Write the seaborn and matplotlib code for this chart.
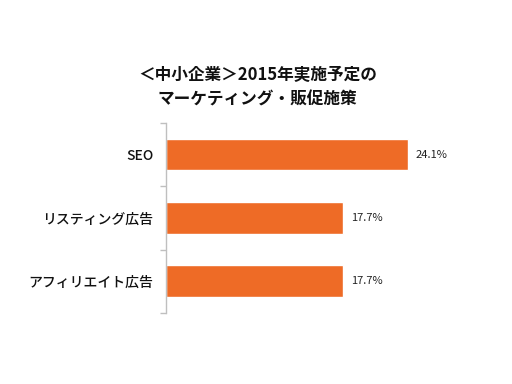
import pandas as pd
import matplotlib
matplotlib.use("Agg")
import matplotlib.pyplot as plt
import seaborn as sns

# データ
categories = ["SEO", "リスティング広告", "アフィリエイト広告"]
values = [24.1, 17.7, 17.7]
value_labels = ["24.1%", "17.7%", "17.7%"]

df = pd.DataFrame({"施策": categories, "割合": values})

sns.set_style("white")
plt.rcParams["font.family"] = ["Noto Sans CJK JP", "DejaVu Sans"]

fig = plt.figure(figsize=(5.12, 3.84), dpi=100)
ax = fig.add_axes([0.324, 0.185, 0.613, 0.495])

sns.barplot(data=df, x="割合", y="施策", color="#EE6B26", width=0.5,
            saturation=1, ax=ax, orient="h")

# 値ラベル
for i, (v, lab) in enumerate(zip(values, value_labels)):
    ax.text(v + 0.8, i, lab, va="center", ha="left", fontsize=8, color="#222222")

ax.set_xlim(0, 31.3)
ax.set_ylim(2.5, -0.5)
ax.set_xlabel("")
ax.set_ylabel("")
ax.set_xticks([])

# 区切りの目盛り
ax.set_yticks([-0.5, 0.5, 1.5, 2.5], minor=True)
ax.tick_params(axis="y", which="major", length=0, labelsize=10, pad=9)
ax.tick_params(axis="y", which="minor", length=4, color="#BFBFBF", width=1, left=True)
for lab in ax.get_yticklabels():
    lab.set_color("#111111")
    lab.set_fontweight("medium")

for s in ["top", "right", "bottom"]:
    ax.spines[s].set_visible(False)
ax.spines["left"].set_color("#BFBFBF")
ax.spines["left"].set_linewidth(1)

fig.text(0.503, 0.772, "＜中小企業＞2015年実施予定の\nマーケティング・販促施策",
         ha="center", va="center", fontsize=12, fontweight="bold",
         linespacing=1.45, color="#111111")

fig.savefig("out.png", dpi=100)
